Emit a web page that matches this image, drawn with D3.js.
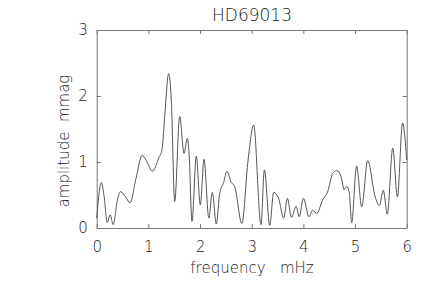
<!DOCTYPE html>
<html>
<head>
<meta charset="utf-8">
<script src="https://cdn.jsdelivr.net/npm/d3@7"></script>
<style>
  body { margin: 0; background: #fff; }
  text { font-family: "DejaVu Sans", sans-serif; font-weight: 300; fill: #222; }
</style>
</head>
<body>
<svg id="chart" width="436" height="290"></svg>
<script>
// amplitude spectrum (freq in mHz, amplitude in mmag)
var freq = [0.00, 0.09, 0.14, 0.205, 0.26, 0.32, 0.40, 0.46, 0.56, 0.645, 0.76, 0.88, 0.96, 1.077,
  1.206, 1.264, 1.316, 1.393, 1.444, 1.51, 1.606, 1.69, 1.754, 1.79, 1.844, 1.928, 2.005, 2.077,
  2.17, 2.237, 2.315, 2.38, 2.457, 2.52, 2.605, 2.67, 2.81, 2.93, 3.038, 3.18, 3.245, 3.35,
  3.425, 3.52, 3.62, 3.69, 3.77, 3.86, 3.92, 4.00, 4.11, 4.18, 4.26, 4.37, 4.47, 4.57, 4.645,
  4.73, 4.79, 4.84, 4.89, 4.935, 5.03, 5.13, 5.245, 5.39, 5.47, 5.547, 5.625, 5.73, 5.82, 5.92, 6.00];
var amp = [0.15, 0.69, 0.50, 0.08, 0.20, 0.05, 0.42, 0.55, 0.47, 0.38, 0.75, 1.10, 1.02, 0.86,
  1.07, 1.19, 1.69, 2.34, 1.94, 0.40, 1.69, 1.13, 1.36, 1.10, 0.10, 1.09, 0.35, 1.04,
  0.15, 0.54, 0.06, 0.52, 0.69, 0.86, 0.69, 0.63, 0.07, 1.03, 1.56, 0.05, 0.88, 0.04,
  0.54, 0.45, 0.15, 0.45, 0.16, 0.33, 0.17, 0.45, 0.17, 0.27, 0.22, 0.42, 0.55, 0.83, 0.87,
  0.78, 0.58, 0.63, 0.53, 0.08, 0.94, 0.32, 1.02, 0.47, 0.34, 0.57, 0.21, 1.21, 0.47, 1.59, 1.03];

var xTicks = [0, 1, 2, 3, 4, 5, 6];
var yTicks = [0, 1, 2, 3];

var title = "HD69013";
var xLabel = "frequency   mHz";
var yLabel = "amplitude  mmag";

var svg = d3.select("#chart");
var plotLeft = 96.7, plotRight = 406.7, plotTop = 30, plotBottom = 228;

var x = d3.scaleLinear().domain([0, 6]).range([plotLeft, plotRight]);
var y = d3.scaleLinear().domain([0, 3]).range([plotBottom, plotTop]);

var axisColor = "#777";
var intFmt = d3.format("d");

// the four axes, IDL style box
var gx = svg.append("g").attr("transform", "translate(0," + plotBottom + ")")
  .call(d3.axisBottom(x).tickValues(xTicks).tickFormat(intFmt).tickSizeInner(-4).tickSizeOuter(0).tickPadding(13));
var gxTop = svg.append("g").attr("transform", "translate(0," + plotTop + ")")
  .call(d3.axisTop(x).tickValues(xTicks).tickSizeInner(-4).tickSizeOuter(0).tickFormat(""));
var gy = svg.append("g").attr("transform", "translate(" + plotLeft + ",0)")
  .call(d3.axisLeft(y).tickValues(yTicks).tickFormat(intFmt).tickSizeInner(-4).tickSizeOuter(0).tickPadding(9));
var gyRight = svg.append("g").attr("transform", "translate(" + plotRight + ",0)")
  .call(d3.axisRight(y).tickValues(yTicks).tickSizeInner(-4).tickSizeOuter(0).tickFormat(""));

[gx, gxTop, gy, gyRight].forEach(function(g) {
  g.selectAll("path, line").attr("stroke", axisColor).attr("stroke-width", 1);
  g.selectAll("text").style("font-size", "15px").attr("fill", "#222");
});

// the spectrum
var data = freq.map(function(f, i) { return { f: f, a: amp[i] }; });
var line = d3.line()
  .x(function(d) { return x(d.f); })
  .y(function(d) { return y(d.a); })
  .curve(d3.curveMonotoneX);

svg.append("path")
  .datum(data)
  .attr("d", line)
  .attr("fill", "none")
  .attr("stroke", "#555")
  .attr("stroke-width", 1);

// texts
svg.append("text")
  .attr("x", 252).attr("y", 21)
  .attr("text-anchor", "middle")
  .style("font-size", "17px")
  .text(title);

svg.append("text")
  .attr("x", 252).attr("y", 273)
  .attr("text-anchor", "middle")
  .style("font-size", "15px")
  .style("white-space", "pre")
  .attr("xml:space", "preserve")
  .text(xLabel);

svg.append("text")
  .attr("transform", "translate(69,141) rotate(-90)")
  .attr("text-anchor", "middle")
  .style("font-size", "15px")
  .style("white-space", "pre")
  .attr("xml:space", "preserve")
  .text(yLabel);
</script>
</body>
</html>
